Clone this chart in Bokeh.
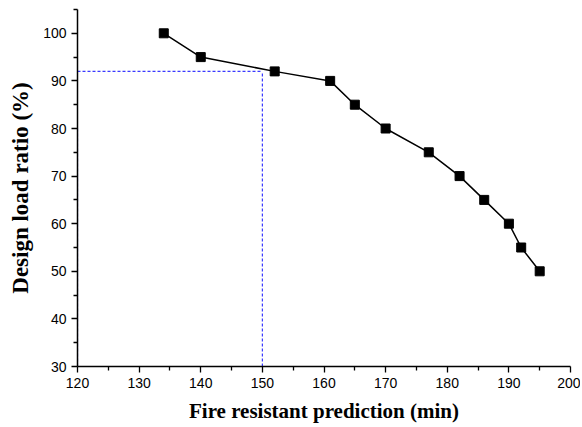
from bokeh.plotting import figure
from bokeh.embed import file_html
from bokeh.resources import INLINE
from bokeh.models import Range1d, FixedTicker

fire_time = [134, 140, 152, 161, 165, 170, 177, 182, 186, 190, 192, 195]
load_ratio = [100, 95, 92, 90, 85, 80, 75, 70, 65, 60, 55, 50]

ref_x_h = [120, 150]
ref_y_h = [92, 92]
ref_x_v = [150, 150]
ref_y_v = [30, 92]
ref_x_a = [120, 120]
ref_y_a = [30, 80]

x_ticks = [120, 130, 140, 150, 160, 170, 180, 190, 200]
y_ticks = [30, 40, 50, 60, 70, 80, 90, 100]

p = figure(width=580, height=427, output_backend="svg", toolbar_location=None,
           x_range=Range1d(120, 200), y_range=Range1d(30, 105),
           min_border_left=77, min_border_right=10, min_border_top=9, min_border_bottom=61)
p.outline_line_color = None
p.xgrid.visible = False
p.ygrid.visible = False

blue = "#3b3bff"
p.line(ref_x_h, ref_y_h, line_color=blue, line_width=1.2, line_dash="3 2")
p.line(ref_x_v, ref_y_v, line_color=blue, line_width=1.2, line_dash="3 2")
p.line(ref_x_a, ref_y_a, line_color=blue, line_width=1.2, line_dash="3 2")

p.line(fire_time, load_ratio, line_color="black", line_width=1.5)
p.scatter(fire_time, load_ratio, marker="square", size=9, fill_color="black", line_color="black")

for ax in (p.xaxis[0], p.yaxis[0]):
    ax.axis_line_color = "black"
    ax.axis_line_width = 1.5
    ax.major_tick_line_color = "black"
    ax.major_tick_line_width = 1.3
    ax.minor_tick_line_color = "black"
    ax.minor_tick_line_width = 1.3
    ax.major_tick_out = 6
    ax.major_tick_in = 0
    ax.minor_tick_out = 4
    ax.minor_tick_in = 0
    ax.major_label_text_font = "Liberation Sans"
    ax.major_label_text_font_size = "14px"
    ax.major_label_text_color = "black"
    ax.axis_label_text_font = "Liberation Serif"
    ax.axis_label_text_font_style = "bold"
    ax.axis_label_text_color = "black"

p.xaxis[0].axis_label_text_font_size = "21px"
p.yaxis[0].axis_label_text_font_size = "23px"
p.xaxis[0].ticker = FixedTicker(ticks=x_ticks, minor_ticks=[125, 135, 145, 155, 165, 175, 185, 195])
p.yaxis[0].ticker = FixedTicker(ticks=y_ticks, minor_ticks=[35, 45, 55, 65, 75, 85, 95, 105])
p.xaxis[0].axis_label = "Fire resistant prediction (min)"
p.yaxis[0].axis_label = "Design load ratio (%)"
p.xaxis[0].axis_label_standoff = 8
p.yaxis[0].axis_label_standoff = 7
p.xaxis[0].major_label_standoff = 5
p.yaxis[0].major_label_standoff = 5

open("out.html", "w").write(file_html(p, INLINE))
